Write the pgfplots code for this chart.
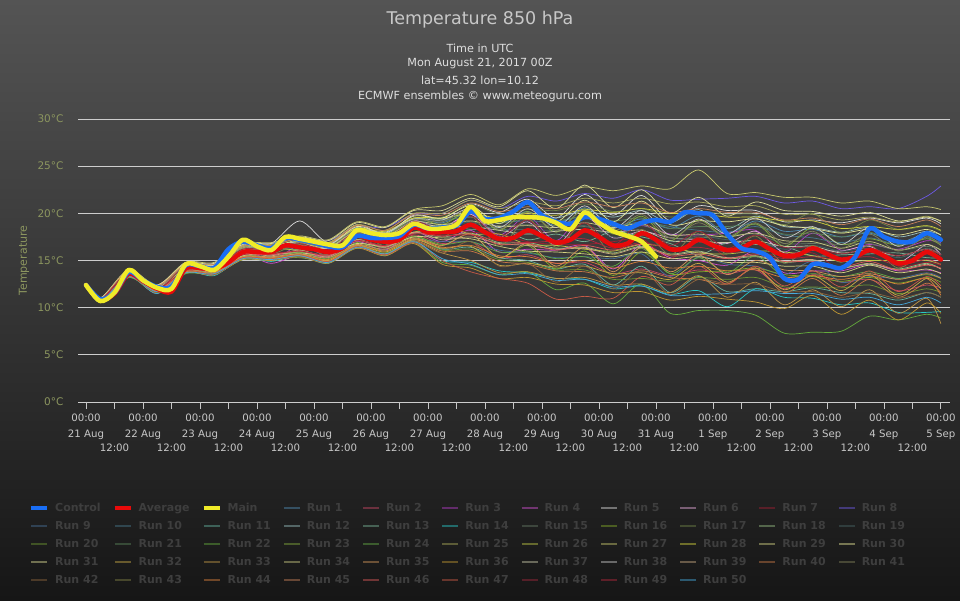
\documentclass[border=0pt]{standalone}
\usepackage{fontspec}
\setmainfont{DejaVu Sans}
\usepackage{pgfplots}
\usepackage{pgfplotstable}
\pgfplotsset{compat=1.18}

\definecolor{bgtop}{RGB}{84,84,84}
\definecolor{bgbot}{RGB}{22,22,22}
\definecolor{titlec}{RGB}{200,200,200}
\definecolor{subc}{RGB}{222,222,222}
\definecolor{gridc}{RGB}{205,205,205}
\definecolor{tickc}{RGB}{200,200,200}
\definecolor{ycol}{RGB}{140,150,95}
\definecolor{legtext}{RGB}{62,62,62}
\definecolor{ctrl}{RGB}{25,110,245}
\definecolor{avg}{RGB}{232,10,10}
\definecolor{mainc}{RGB}{240,235,40}

% run colours
\definecolor{c1}{RGB}{80,140,180}   \definecolor{c2}{RGB}{200,70,100}
\definecolor{c3}{RGB}{180,60,200}   \definecolor{c4}{RGB}{210,80,210}
\definecolor{c5}{RGB}{220,220,220}  \definecolor{c6}{RGB}{230,170,220}
\definecolor{c7}{RGB}{160,30,50}    \definecolor{c8}{RGB}{110,90,230}
\definecolor{c9}{RGB}{70,110,150}   \definecolor{c10}{RGB}{70,120,140}
\definecolor{c11}{RGB}{100,180,160} \definecolor{c12}{RGB}{150,190,190}
\definecolor{c13}{RGB}{120,180,150} \definecolor{c14}{RGB}{40,200,200}
\definecolor{c15}{RGB}{100,120,100} \definecolor{c16}{RGB}{130,170,40}
\definecolor{c17}{RGB}{110,130,70}  \definecolor{c18}{RGB}{150,190,130}
\definecolor{c19}{RGB}{70,100,100}  \definecolor{c20}{RGB}{110,150,50}
\definecolor{c21}{RGB}{90,130,90}   \definecolor{c22}{RGB}{100,170,60}
\definecolor{c23}{RGB}{130,170,60}  \definecolor{c24}{RGB}{100,170,70}
\definecolor{c25}{RGB}{170,170,90}  \definecolor{c26}{RGB}{190,200,70}
\definecolor{c27}{RGB}{200,200,110} \definecolor{c28}{RGB}{210,210,60}
\definecolor{c29}{RGB}{210,210,130} \definecolor{c30}{RGB}{230,230,150}
\definecolor{c31}{RGB}{220,220,150} \definecolor{c32}{RGB}{200,170,70}
\definecolor{c33}{RGB}{190,150,70}  \definecolor{c34}{RGB}{200,200,130}
\definecolor{c35}{RGB}{210,150,90}  \definecolor{c36}{RGB}{190,150,50}
\definecolor{c37}{RGB}{200,200,170} \definecolor{c38}{RGB}{200,200,200}
\definecolor{c39}{RGB}{200,170,130} \definecolor{c40}{RGB}{200,120,70}
\definecolor{c41}{RGB}{130,130,90}  \definecolor{c42}{RGB}{140,100,60}
\definecolor{c43}{RGB}{130,130,70}  \definecolor{c44}{RGB}{220,130,60}
\definecolor{c45}{RGB}{200,130,90}  \definecolor{c46}{RGB}{220,90,90}
\definecolor{c47}{RGB}{200,90,70}   \definecolor{c48}{RGB}{160,40,60}
\definecolor{c49}{RGB}{180,40,60}   \definecolor{c50}{RGB}{70,170,220}

\pgfplotsset{
  legend image code/.code={\draw[#1] (0pt,0pt) -- (16pt,0pt);},
  run/.style={draw=#1, line width=0.7pt, smooth,
    legend image code/.code={\draw[draw=#1, line width=2pt, draw opacity=0.45] (0pt,0pt) -- (16pt,0pt);}},
  fat/.style={draw=#1, line width=4.5pt, smooth, line join=round, line cap=round},
}

% control, average and main run, 6-hourly (days since 21 Aug 00Z)
\pgfplotstableread{
t     ctrl  avg   main
0     12.4  12.4  12.4
0.25  10.9  10.8  10.7
0.5   11.6  11.5  11.6
0.75  13.8  13.6  14.0
1     12.9  12.8  12.9
1.25  12.2  12.0  12.1
1.5   12.2  11.7  12.0
1.75  14.5  14.2  14.6
2     14.4  14.2  14.4
2.25  14.2  14.1  14.0
2.5   16.2  14.8  15.4
2.75  17.0  15.9  17.2
3     16.6  15.9  16.5
3.25  16.3  15.9  16.1
3.5   17.4  16.6  17.5
3.75  17.2  16.4  17.3
4     16.9  16.2  17.0
4.25  16.5  15.9  16.7
4.5   16.4  16.3  16.6
4.75  17.6  17.6  18.2
5     17.4  17.2  17.9
5.25  17.4  17.0  17.7
5.5   17.6  17.2  17.9
5.75  18.8  18.5  18.9
6     18.4  18.0  18.4
6.25  18.5  18.0  18.4
6.5   18.7  18.1  18.8
6.75  20.2  18.8  20.7
7     19.4  18.0  19.2
7.25  19.5  17.3  19.3
7.5   20.2  17.4  19.6
7.75  21.2  18.2  19.6
8     19.8  17.6  19.5
8.25  19.1  16.9  19.0
8.5   18.9  17.2  18.3
8.75  19.6  18.2  20.1
9     19.4  17.5  19.0
9.25  18.9  16.6  18.1
9.5   18.4  16.8  17.6
9.75  19.0  17.9  17.0
10    19.3  17.2  15.4
10.25 19.1  16.2  nan
10.5  20.1  16.3  nan
10.75 20.0  17.2  nan
11    19.8  16.6  nan
11.25 17.8  16.1  nan
11.5  16.3  16.3  nan
11.75 16.0  17.0  nan
12    15.3  16.2  nan
12.25 13.1  15.5  nan
12.5  13.0  15.6  nan
12.75 14.6  16.3  nan
13    14.5  15.7  nan
13.25 14.2  15.1  nan
13.5  15.4  15.4  nan
13.75 18.4  16.1  nan
14    17.5  15.5  nan
14.25 17.0  14.7  nan
14.5  17.0  15.0  nan
14.75 17.9  15.9  nan
15    17.2  15.1  nan
}\mainruns

% ensemble members at 06Z and 18Z
\pgfplotstableread{
t
0
0.25
0.75
1.25
1.75
2.25
2.75
3.25
3.75
4.25
4.75
5.25
5.75
6.25
6.75
7.25
7.75
8.25
8.75
9.25
9.75
10.25
10.75
11.25
11.75
12.25
12.75
13.25
13.75
14.25
14.75
15
}\runs
\pgfplotstablecreatecol[create col/set list={12.4,11.0,13.9,12.3,14.6,14.5,16.4,16.5,17.0,16.6,18.3,17.8,19.4,19.0,20.1,18.9,20.2,18.7,20.6,18.6,19.4,18.4,19.7,17.9,19.2,18.1,18.3,17.5,17.9,16.9,17.9,17.4}]{r1}\runs
\pgfplotstablecreatecol[create col/set list={12.4,10.7,13.4,11.7,13.9,13.8,15.5,15.4,16.0,15.3,17.1,16.3,17.7,16.8,17.0,15.3,15.6,14.7,14.8,13.6,14.1,13.4,14.0,13.6,14.0,12.0,13.5,12.7,13.0,11.8,12.4,12.1}]{r2}\runs
\pgfplotstablecreatecol[create col/set list={12.4,10.8,13.4,11.6,14.3,13.9,16.2,15.0,16.6,15.6,18.0,17.2,19.1,18.3,20.0,17.7,19.7,17.1,20.2,18.0,18.7,17.8,17.7,17.9,18.2,15.9,17.9,16.1,16.7,16.2,17.1,16.9}]{r3}\runs
\pgfplotstablecreatecol[create col/set list={12.4,10.6,13.3,11.5,14.0,13.5,15.6,14.7,15.6,15.5,17.0,16.1,18.0,17.0,18.2,15.9,16.2,16.1,16.6,14.1,16.7,15.3,15.0,14.5,16.0,13.7,13.9,13.9,14.6,13.9,14.0,13.7}]{r4}\runs
\pgfplotstablecreatecol[create col/set list={12.4,10.9,14.0,12.3,14.8,14.4,16.6,16.8,19.2,16.9,18.8,17.8,19.8,19.5,21.0,20.1,21.5,19.5,22.0,19.8,21.9,19.2,20.8,20.3,20.3,19.1,19.3,19.0,19.5,19.0,19.5,18.9}]{r5}\runs
\pgfplotstablecreatecol[create col/set list={12.4,10.9,13.8,12.1,14.5,14.3,16.3,16.0,16.9,16.1,18.2,17.3,19.2,18.5,19.9,17.5,19.1,16.6,19.6,17.4,18.1,17.4,17.2,16.8,18.1,15.8,16.1,16.0,16.5,14.8,16.7,15.6}]{r6}\runs
\pgfplotstablecreatecol[create col/set list={12.4,10.7,13.6,11.8,14.3,13.8,16.1,15.8,16.0,16.2,17.4,17.4,18.0,18.2,18.0,17.8,17.0,16.7,16.7,17.0,17.3,15.2,17.5,15.3,15.6,15.7,15.8,14.2,16.2,14.4,14.8,14.5}]{r7}\runs
\pgfplotstablecreatecol[create col/set list={12.4,11.0,13.9,12.4,14.7,14.7,16.7,16.8,17.4,17.1,18.6,18.5,19.9,20.0,21.4,20.5,21.8,21.3,22.1,21.6,22.5,21.4,21.5,21.6,21.8,21.1,21.3,20.5,20.7,20.5,21.8,22.9}]{r8}\runs
\pgfplotstablecreatecol[create col/set list={12.4,10.7,13.3,11.8,13.7,13.8,15.2,15.4,15.5,15.3,16.6,16.2,17.2,17.0,17.0,16.1,15.8,15.3,15.4,15.2,15.7,13.3,15.4,14.6,14.4,13.5,14.9,12.7,13.3,13.1,13.7,13.2}]{r9}\runs
\pgfplotstablecreatecol[create col/set list={12.4,10.9,13.7,12.3,14.4,14.5,16.2,16.5,16.8,16.6,18.1,17.9,19.1,19.2,19.6,19.1,19.2,19.1,19.6,18.6,19.1,18.6,18.2,18.0,18.6,17.7,17.4,16.9,17.4,16.7,17.4,16.8}]{r10}\runs
\pgfplotstablecreatecol[create col/set list={12.4,10.6,13.2,11.7,13.7,13.5,15.1,15.0,15.7,14.8,16.7,15.6,17.3,16.2,16.4,15.3,15.0,14.1,14.6,12.4,14.4,11.6,13.3,11.7,12.0,11.7,12.1,11.6,11.5,10.8,11.6,11.1}]{r11}\runs
\pgfplotstablecreatecol[create col/set list={12.4,10.9,13.8,12.2,14.5,14.5,16.4,16.3,17.1,16.5,18.5,17.8,19.5,19.4,20.0,19.3,19.8,19.5,20.3,19.6,20.3,19.0,20.4,18.4,19.7,18.6,18.5,18.0,18.5,17.5,18.1,17.7}]{r12}\runs
\pgfplotstablecreatecol[create col/set list={12.4,10.8,13.5,12.2,14.0,14.2,15.6,16.2,16.2,16.3,17.2,17.5,17.9,18.8,18.3,18.5,17.2,17.8,17.0,18.1,17.5,16.8,15.6,16.9,16.7,16.5,15.5,15.6,15.7,15.8,15.3,15.3}]{r13}\runs
\pgfplotstablecreatecol[create col/set list={12.4,10.6,13.3,11.5,13.8,13.4,15.3,14.9,15.5,14.7,16.6,15.5,17.1,15.0,14.8,13.9,13.7,13.1,13.0,12.0,12.3,11.4,11.8,10.1,12.0,11.1,11.0,10.3,10.5,9.5,9.5,9.6}]{r14}\runs
\pgfplotstablecreatecol[create col/set list={12.4,10.9,13.6,12.2,14.3,14.4,16.0,16.3,16.6,16.4,17.9,17.6,18.9,18.9,19.1,18.7,18.8,18.7,18.6,18.2,18.8,17.4,17.4,17.6,17.8,16.8,16.8,16.7,16.8,16.1,16.5,16.1}]{r15}\runs
\pgfplotstablecreatecol[create col/set list={12.4,10.7,13.4,11.9,13.8,13.8,15.4,15.3,15.9,15.1,16.9,16.0,17.6,16.6,17.8,15.3,16.6,14.1,16.0,13.4,15.9,13.6,13.8,13.9,14.2,13.5,13.3,12.8,13.2,12.6,13.2,12.7}]{r16}\runs
\pgfplotstablecreatecol[create col/set list={12.4,10.9,13.9,12.2,14.6,14.6,16.3,16.6,17.0,16.8,18.4,18.1,19.5,19.6,20.9,19.9,20.4,20.3,21.0,20.2,20.5,19.6,20.2,19.9,19.9,18.8,20.0,17.9,19.3,18.3,18.6,18.1}]{r17}\runs
\pgfplotstablecreatecol[create col/set list={12.4,10.8,13.5,11.9,14.0,13.9,15.6,15.6,16.0,15.6,17.1,16.6,17.9,17.5,17.9,16.9,16.9,16.3,16.4,15.8,16.5,15.7,16.0,15.2,15.4,14.8,15.0,14.3,14.6,14.1,14.7,14.1}]{r18}\runs
\pgfplotstablecreatecol[create col/set list={12.4,10.8,13.7,12.0,14.4,14.2,16.2,16.1,16.5,16.3,17.8,17.5,18.8,18.7,19.0,18.3,18.3,18.2,18.7,17.5,17.7,17.0,17.6,17.2,17.0,16.2,16.6,16.0,16.3,15.3,16.3,15.6}]{r19}\runs
\pgfplotstablecreatecol[create col/set list={12.4,10.7,13.3,11.6,13.9,13.5,15.4,15.1,15.7,14.9,16.7,15.7,17.3,16.1,16.2,15.1,14.8,14.0,14.0,13.0,13.1,12.8,13.2,13.0,13.2,12.2,12.2,12.1,12.4,11.5,12.0,11.6}]{r20}\runs
\pgfplotstablecreatecol[create col/set list={12.4,10.9,13.8,12.1,14.6,14.4,16.4,16.3,17.0,16.4,18.4,17.7,19.4,19.3,19.6,19.0,19.4,19.2,19.7,19.2,19.5,18.4,18.6,18.6,18.8,17.8,17.9,17.5,18.0,16.9,17.6,17.1}]{r21}\runs
\pgfplotstablecreatecol[create col/set list={12.4,10.6,13.2,11.7,13.6,13.6,15.1,15.2,15.3,14.9,16.3,15.8,16.9,14.8,14.5,13.5,13.8,11.9,12.6,10.4,12.5,9.4,9.7,9.7,9.2,7.3,7.4,7.5,9.1,8.7,9.3,8.9}]{r22}\runs
\pgfplotstablecreatecol[create col/set list={12.4,10.8,13.8,12.1,14.5,14.3,16.4,16.2,17.0,16.3,18.4,17.6,19.5,18.8,20.3,18.2,20.2,18.0,20.5,17.8,19.7,17.1,19.3,17.4,18.9,16.5,18.5,16.7,17.3,16.6,17.3,16.6}]{r23}\runs
\pgfplotstablecreatecol[create col/set list={12.4,10.7,13.5,11.7,14.0,13.7,15.5,15.3,15.9,15.2,16.8,16.4,17.5,16.7,17.0,15.9,15.9,15.2,15.4,14.4,16.3,13.6,15.3,13.7,15.5,13.3,13.6,13.3,13.8,13.1,13.5,13.1}]{r24}\runs
\pgfplotstablecreatecol[create col/set list={12.4,10.9,13.9,12.3,14.7,14.6,16.6,16.7,17.3,16.9,18.8,18.2,20.0,20.0,21.4,20.5,21.2,20.8,21.6,21.1,21.6,21.0,21.2,20.7,20.8,19.9,19.9,19.3,19.6,19.1,19.7,19.1}]{r25}\runs
\pgfplotstablecreatecol[create col/set list={12.4,10.9,13.6,12.2,14.1,14.4,15.7,16.3,16.1,16.4,17.2,17.6,18.0,18.7,17.8,17.8,16.7,16.6,16.2,16.0,16.7,16.4,15.8,15.7,16.0,15.9,15.5,14.9,15.0,15.0,15.0,14.6}]{r26}\runs
\pgfplotstablecreatecol[create col/set list={12.4,11.0,14.0,12.4,14.8,14.8,16.8,16.9,17.6,17.2,19.1,18.6,20.4,20.8,22.0,20.9,22.6,21.9,22.8,22.4,22.9,22.6,24.6,22.1,22.2,21.7,21.7,21.1,21.3,20.5,20.7,20.4}]{r27}\runs
\pgfplotstablecreatecol[create col/set list={12.4,10.9,13.8,12.3,14.5,14.6,16.3,16.6,17.0,16.8,18.4,18.1,19.5,19.5,20.0,19.5,20.0,19.8,20.4,20.1,20.5,20.0,20.0,19.6,19.6,19.2,19.2,18.4,18.6,18.3,18.7,18.2}]{r28}\runs
\pgfplotstablecreatecol[create col/set list={12.4,10.7,13.4,12.0,13.9,14.0,15.5,15.7,15.8,15.6,16.8,16.5,17.5,17.4,17.3,16.5,16.0,15.9,15.7,15.4,15.9,15.2,15.4,14.8,14.8,14.4,14.4,13.7,14.5,13.7,14.1,13.6}]{r29}\runs
\pgfplotstablecreatecol[create col/set list={12.4,10.9,13.9,12.2,14.6,14.5,16.5,16.4,17.2,16.6,18.6,17.9,19.7,19.5,20.8,18.9,21.0,19.1,21.4,19.1,21.3,18.8,19.2,19.1,19.4,18.7,18.4,17.9,18.3,17.7,18.3,17.7}]{r30}\runs
\pgfplotstablecreatecol[create col/set list={12.4,11.0,13.8,12.4,14.7,14.7,16.7,16.8,17.5,17.1,19.0,18.5,20.3,20.3,21.6,20.7,22.4,20.5,23.0,20.6,22.5,20.0,21.7,19.7,21.2,20.3,20.2,19.7,20.1,19.2,19.6,19.2}]{r31}\runs
\pgfplotstablecreatecol[create col/set list={12.4,10.7,13.4,11.7,13.9,13.6,15.4,15.2,15.7,15.0,16.6,15.9,17.2,16.3,16.5,14.5,14.7,14.3,14.4,13.6,13.7,13.0,14.7,12.7,14.2,11.9,13.4,11.8,13.5,11.3,13.1,12.0}]{r32}\runs
\pgfplotstablecreatecol[create col/set list={12.4,10.7,13.3,11.7,13.7,13.6,15.2,15.1,15.5,14.9,16.4,15.7,17.0,15.8,15.0,13.7,13.8,13.1,13.2,12.4,12.5,11.6,13.4,11.1,12.7,10.3,11.9,10.1,11.9,9.4,11.0,8.3}]{r33}\runs
\pgfplotstablecreatecol[create col/set list={12.4,10.9,13.7,12.2,14.4,14.4,16.2,16.3,16.8,16.4,18.1,17.6,19.1,18.8,19.2,18.6,18.7,18.5,19.0,18.5,18.9,17.7,17.8,17.5,17.9,17.1,17.0,16.3,17.0,16.1,16.7,16.1}]{r34}\runs
\pgfplotstablecreatecol[create col/set list={12.4,10.7,13.4,11.8,13.9,13.7,15.4,15.4,15.7,15.3,16.7,16.2,17.4,16.6,17.8,15.3,16.8,14.4,16.4,13.8,16.4,13.8,15.6,13.5,15.0,14.0,13.9,13.3,13.6,13.0,13.6,13.1}]{r35}\runs
\pgfplotstablecreatecol[create col/set list={12.4,10.6,13.3,11.6,13.7,13.5,15.1,15.0,15.4,14.7,16.3,15.5,16.8,14.6,14.2,13.1,13.2,12.5,12.4,11.6,11.7,10.8,11.2,10.9,10.6,9.9,11.3,9.3,10.8,8.7,10.5,9.4}]{r36}\runs
\pgfplotstablecreatecol[create col/set list={12.4,10.8,13.7,12.1,14.3,14.3,16.1,16.2,16.6,16.3,17.9,17.5,18.8,18.6,18.6,18.2,17.8,18.1,18.3,18.0,18.2,17.1,17.0,16.9,17.1,16.5,16.5,15.8,16.1,15.5,16.2,15.6}]{r37}\runs
\pgfplotstablecreatecol[create col/set list={12.4,10.9,13.8,12.3,14.5,14.5,16.3,16.5,17.0,16.7,18.3,18.0,19.4,19.3,20.5,18.5,20.5,18.5,20.8,18.4,20.3,17.7,19.4,17.8,19.5,17.4,18.6,16.7,18.5,16.5,18.1,17.1}]{r38}\runs
\pgfplotstablecreatecol[create col/set list={12.4,10.7,13.6,11.8,14.1,13.8,15.7,15.5,16.1,15.4,17.2,16.4,18.0,17.2,17.5,16.8,16.6,16.2,16.3,15.7,16.4,15.6,15.9,15.3,15.5,14.9,15.1,14.2,14.7,14.0,14.6,14.1}]{r39}\runs
\pgfplotstablecreatecol[create col/set list={12.4,10.7,13.3,11.7,13.8,13.5,15.3,15.1,15.5,14.9,16.5,15.7,17.1,16.0,16.0,14.9,14.6,13.9,13.8,13.2,13.9,13.2,13.0,12.5,14.2,11.6,13.1,11.3,13.0,11.1,12.6,11.6}]{r40}\runs
\pgfplotstablecreatecol[create col/set list={12.4,10.9,13.7,12.2,14.5,14.4,16.3,16.4,16.9,16.5,18.3,17.7,19.3,19.1,20.4,18.3,20.1,18.2,20.4,18.1,19.9,17.4,19.0,17.5,19.0,16.8,18.1,16.3,17.8,16.0,17.5,16.6}]{r41}\runs
\pgfplotstablecreatecol[create col/set list={12.4,10.6,13.4,11.6,13.8,13.5,15.2,15.1,15.4,14.8,16.4,15.6,17.0,15.8,17.0,14.4,14.7,12.7,14.4,12.0,14.0,11.4,13.0,12.5,12.5,11.7,11.7,11.1,11.6,11.0,11.6,11.1}]{r42}\runs
\pgfplotstablecreatecol[create col/set list={12.4,10.8,13.7,11.9,14.4,13.9,16.2,15.7,16.7,15.6,18.0,16.6,19.0,17.4,19.7,16.5,19.4,16.4,19.0,15.6,18.3,15.6,18.1,15.7,17.6,14.7,16.6,14.8,16.6,14.2,16.1,15.1}]{r43}\runs
\pgfplotstablecreatecol[create col/set list={12.4,10.7,13.4,11.8,13.8,13.7,15.3,15.3,15.6,15.1,16.6,16.0,17.3,16.4,16.6,15.5,15.4,14.7,15.0,14.2,14.9,14.2,14.4,13.9,14.0,13.2,13.4,13.0,13.4,12.5,13.1,11.3}]{r44}\runs
\pgfplotstablecreatecol[create col/set list={12.4,10.9,13.9,12.3,14.6,14.6,16.5,16.6,17.3,16.8,18.7,18.2,19.9,19.8,21.1,20.2,20.7,20.5,21.2,20.7,21.1,20.1,20.5,20.1,20.1,19.3,19.5,18.8,19.4,18.6,19.3,18.6}]{r45}\runs
\pgfplotstablecreatecol[create col/set list={12.4,10.8,13.5,11.9,14.0,13.9,15.6,15.6,16.0,15.5,17.1,16.5,17.9,17.6,17.8,16.7,16.8,16.1,16.6,16.1,16.7,15.5,15.7,15.2,15.7,14.9,14.9,14.3,14.9,14.0,14.5,14.2}]{r46}\runs
\pgfplotstablecreatecol[create col/set list={12.4,10.7,13.4,11.7,13.9,13.6,15.3,15.2,15.6,14.9,16.4,15.6,16.9,15.0,13.8,13.1,12.6,10.9,11.2,11.0,13.3,12.4,14.4,12.5,14.4,12.3,13.9,12.2,13.9,11.7,13.3,12.3}]{r47}\runs
\pgfplotstablecreatecol[create col/set list={12.4,10.8,13.7,12.0,14.4,14.2,16.2,16.1,16.8,16.1,18.1,17.3,19.1,18.3,19.7,17.5,19.3,16.7,19.0,16.6,19.1,16.6,18.1,16.3,17.7,16.4,16.4,15.7,16.3,15.5,16.2,15.6}]{r48}\runs
\pgfplotstablecreatecol[create col/set list={12.4,10.8,13.5,12.0,14.0,14.0,15.6,15.7,16.0,15.6,17.1,16.6,17.8,17.6,17.7,17.1,16.9,17.1,17.3,16.3,16.9,16.3,16.4,15.9,15.9,15.2,15.4,15.1,15.4,14.5,15.1,14.6}]{r49}\runs
\pgfplotstablecreatecol[create col/set list={12.4,10.7,13.3,11.7,13.7,13.6,15.2,15.1,15.5,14.8,16.4,15.7,17.0,15.2,14.6,13.5,13.6,12.9,13.0,12.2,12.3,11.3,11.4,11.5,11.8,11.5,11.5,10.9,11.1,10.3,11.1,10.5}]{r50}\runs

\begin{document}
\begin{tikzpicture}
\useasboundingbox (0,0) rectangle (960pt,600pt);
\shade[top color=bgtop, bottom color=bgbot] (0,0) rectangle (960pt,600pt);

\node[text=titlec, font=\fontsize{17.5}{20}\selectfont] at (480pt,580pt) {Temperature 850 hPa};
\node[text=subc, font=\fontsize{11.2}{13}\selectfont] at (480pt,552pt) {Time in UTC};
\node[text=subc, font=\fontsize{11.2}{13}\selectfont] at (480pt,536pt) {Mon August 21, 2017 00Z};
\node[text=subc, font=\fontsize{11.2}{13}\selectfont] at (480pt,520pt) {lat=45.32 lon=10.12};
\node[text=subc, font=\fontsize{11.2}{13}\selectfont] at (480pt,504pt) {ECMWF ensembles © www.meteoguru.com};

\begin{axis}[
  at={(78pt,198pt)}, anchor=south west,
  scale only axis, width=872pt, height=283pt,
  xmin=-0.14, xmax=15.16, ymin=0, ymax=30,
  axis line style={draw=none},
  ymajorgrids, grid style={draw=gridc, line width=0.8pt},
  ytick={0,5,10,15,20,25,30},
  yticklabels={0°C,5°C,10°C,15°C,20°C,25°C,30°C},
  ytick style={draw=none},
  yticklabel style={text=ycol, font=\fontsize{10.5}{12}\selectfont, xshift=-4pt},
  ylabel={Temperature},
  ylabel style={at={(axis description cs:-0.062,0.5)}, anchor=center, text=ycol,
    font=\fontsize{11}{13}\selectfont},
  xtick={0,1,...,15},
  xticklabels={{00:00\\21 Aug},{00:00\\22 Aug},{00:00\\23 Aug},{00:00\\24 Aug},
    {00:00\\25 Aug},{00:00\\26 Aug},{00:00\\27 Aug},{00:00\\28 Aug},{00:00\\29 Aug},
    {00:00\\30 Aug},{00:00\\31 Aug},{00:00\\1 Sep},{00:00\\2 Sep},{00:00\\3 Sep},
    {00:00\\4 Sep},{00:00\\5 Sep}},
  extra x ticks={0.5,1.5,...,14.5},
  extra x tick labels={12:00,12:00,12:00,12:00,12:00,12:00,12:00,12:00,12:00,12:00,
    12:00,12:00,12:00,12:00,12:00},
  extra x tick style={xticklabel style={yshift=-30pt}},
  xtick pos=left, tick align=outside, major tick length=7pt,
  xtick style={draw=tickc, line width=0.8pt},
  xticklabel style={align=center, text=tickc, font=\fontsize{10.2}{16}\selectfont, yshift=-1.5pt},
  legend columns=11,
  legend cell align=left,
  legend style={at={(axis description cs:-0.0562,-0.351)}, anchor=north west,
    draw=none, fill=none, inner sep=0pt, text=legtext,
    font=\bfseries\fontsize{11}{13}\selectfont,
    nodes={inner sep=1pt, text height=9pt, text depth=2pt},
    row sep=5pt,
    /tikz/every odd column/.append style={column sep=5pt},
    /tikz/every even column/.append style={column sep=11pt}},
]
\addlegendimage{fat=ctrl, line width=4pt, line cap=butt}\addlegendentry{Control}
\addlegendimage{fat=avg, line width=4pt, line cap=butt}\addlegendentry{Average}
\addlegendimage{fat=mainc, line width=4pt, line cap=butt}\addlegendentry{Main}

\addplot[run=c1] table[x=t,y=r1]{\runs}; \addlegendentry{Run 1}
\addplot[run=c2] table[x=t,y=r2]{\runs}; \addlegendentry{Run 2}
\addplot[run=c3] table[x=t,y=r3]{\runs}; \addlegendentry{Run 3}
\addplot[run=c4] table[x=t,y=r4]{\runs}; \addlegendentry{Run 4}
\addplot[run=c5] table[x=t,y=r5]{\runs}; \addlegendentry{Run 5}
\addplot[run=c6] table[x=t,y=r6]{\runs}; \addlegendentry{Run 6}
\addplot[run=c7] table[x=t,y=r7]{\runs}; \addlegendentry{Run 7}
\addplot[run=c8] table[x=t,y=r8]{\runs}; \addlegendentry{Run 8}
\addplot[run=c9] table[x=t,y=r9]{\runs}; \addlegendentry{Run 9}
\addplot[run=c10] table[x=t,y=r10]{\runs}; \addlegendentry{Run 10}
\addplot[run=c11] table[x=t,y=r11]{\runs}; \addlegendentry{Run 11}
\addplot[run=c12] table[x=t,y=r12]{\runs}; \addlegendentry{Run 12}
\addplot[run=c13] table[x=t,y=r13]{\runs}; \addlegendentry{Run 13}
\addplot[run=c14] table[x=t,y=r14]{\runs}; \addlegendentry{Run 14}
\addplot[run=c15] table[x=t,y=r15]{\runs}; \addlegendentry{Run 15}
\addplot[run=c16] table[x=t,y=r16]{\runs}; \addlegendentry{Run 16}
\addplot[run=c17] table[x=t,y=r17]{\runs}; \addlegendentry{Run 17}
\addplot[run=c18] table[x=t,y=r18]{\runs}; \addlegendentry{Run 18}
\addplot[run=c19] table[x=t,y=r19]{\runs}; \addlegendentry{Run 19}
\addplot[run=c20] table[x=t,y=r20]{\runs}; \addlegendentry{Run 20}
\addplot[run=c21] table[x=t,y=r21]{\runs}; \addlegendentry{Run 21}
\addplot[run=c22] table[x=t,y=r22]{\runs}; \addlegendentry{Run 22}
\addplot[run=c23] table[x=t,y=r23]{\runs}; \addlegendentry{Run 23}
\addplot[run=c24] table[x=t,y=r24]{\runs}; \addlegendentry{Run 24}
\addplot[run=c25] table[x=t,y=r25]{\runs}; \addlegendentry{Run 25}
\addplot[run=c26] table[x=t,y=r26]{\runs}; \addlegendentry{Run 26}
\addplot[run=c27] table[x=t,y=r27]{\runs}; \addlegendentry{Run 27}
\addplot[run=c28] table[x=t,y=r28]{\runs}; \addlegendentry{Run 28}
\addplot[run=c29] table[x=t,y=r29]{\runs}; \addlegendentry{Run 29}
\addplot[run=c30] table[x=t,y=r30]{\runs}; \addlegendentry{Run 30}
\addplot[run=c31] table[x=t,y=r31]{\runs}; \addlegendentry{Run 31}
\addplot[run=c32] table[x=t,y=r32]{\runs}; \addlegendentry{Run 32}
\addplot[run=c33] table[x=t,y=r33]{\runs}; \addlegendentry{Run 33}
\addplot[run=c34] table[x=t,y=r34]{\runs}; \addlegendentry{Run 34}
\addplot[run=c35] table[x=t,y=r35]{\runs}; \addlegendentry{Run 35}
\addplot[run=c36] table[x=t,y=r36]{\runs}; \addlegendentry{Run 36}
\addplot[run=c37] table[x=t,y=r37]{\runs}; \addlegendentry{Run 37}
\addplot[run=c38] table[x=t,y=r38]{\runs}; \addlegendentry{Run 38}
\addplot[run=c39] table[x=t,y=r39]{\runs}; \addlegendentry{Run 39}
\addplot[run=c40] table[x=t,y=r40]{\runs}; \addlegendentry{Run 40}
\addplot[run=c41] table[x=t,y=r41]{\runs}; \addlegendentry{Run 41}
\addplot[run=c42] table[x=t,y=r42]{\runs}; \addlegendentry{Run 42}
\addplot[run=c43] table[x=t,y=r43]{\runs}; \addlegendentry{Run 43}
\addplot[run=c44] table[x=t,y=r44]{\runs}; \addlegendentry{Run 44}
\addplot[run=c45] table[x=t,y=r45]{\runs}; \addlegendentry{Run 45}
\addplot[run=c46] table[x=t,y=r46]{\runs}; \addlegendentry{Run 46}
\addplot[run=c47] table[x=t,y=r47]{\runs}; \addlegendentry{Run 47}
\addplot[run=c48] table[x=t,y=r48]{\runs}; \addlegendentry{Run 48}
\addplot[run=c49] table[x=t,y=r49]{\runs}; \addlegendentry{Run 49}
\addplot[run=c50] table[x=t,y=r50]{\runs}; \addlegendentry{Run 50}

\addplot[fat=avg, forget plot] table[x=t,y=avg]{\mainruns};
\addplot[fat=ctrl, forget plot] table[x=t,y=ctrl]{\mainruns};
\addplot[fat=mainc, forget plot] table[x=t,y=main]{\mainruns};
\end{axis}
\end{tikzpicture}
\end{document}
